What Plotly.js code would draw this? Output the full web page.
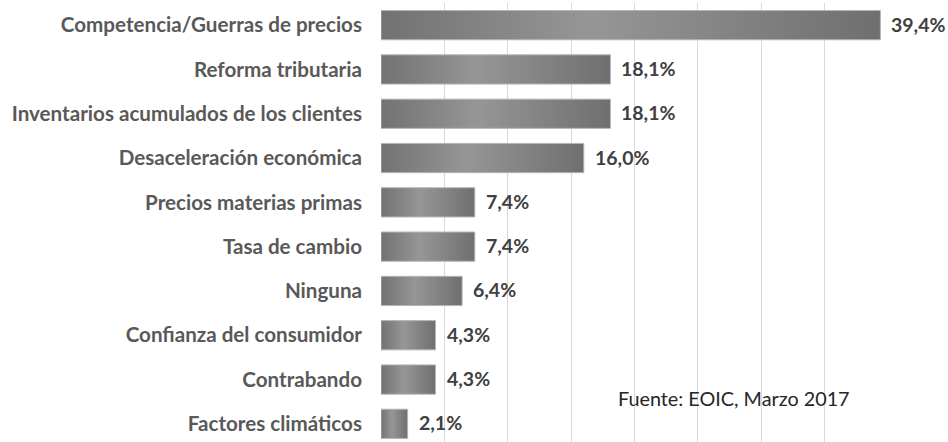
<!DOCTYPE html>
<html>
<head>
<meta charset="utf-8">
<script src="https://cdn.plot.ly/plotly-3.0.1.min.js"></script>
<style>
html,body{margin:0;padding:0;background:#fff;}
#chart{width:948px;height:442px;}
</style>
</head>
<body>
<div id="chart"></div>
<script>
const categories = [
  "Competencia/Guerras de precios",
  "Reforma tributaria",
  "Inventarios acumulados de los clientes",
  "Desaceleración económica",
  "Precios materias primas",
  "Tasa de cambio",
  "Ninguna",
  "Confianza del consumidor",
  "Contrabando",
  "Factores climáticos"
];
const values = [39.4, 18.1, 18.1, 16.0, 7.4, 7.4, 6.4, 4.3, 4.3, 2.1];
const valueLabels = ["39,4%", "18,1%", "18,1%", "16,0%", "7,4%", "7,4%", "6,4%", "4,3%", "4,3%", "2,1%"];
const sourceNote = "Fuente: EOIC, Marzo 2017";

const FONT = "Lato, 'Open Sans', sans-serif";

const trace = {
  type: "bar",
  orientation: "h",
  y: categories,
  x: values,
  width: 0.66,
  marker: {color: "#858585", line: {color: "#b5b5b5", width: 1}},
  cliponaxis: false,
  hoverinfo: "skip"
};

const valueAnnotations = values.map(function(v, i){
  return {
    x: v, y: categories[i],
    xref: "x", yref: "y",
    text: valueLabels[i],
    xanchor: "left", yanchor: "middle",
    xshift: 9, yshift: 1,
    showarrow: false,
    font: {family: FONT, size: 19.5, color: "#404040", weight: 700}
  };
});

const layout = {
  width: 948,
  height: 442,
  margin: {l: 381, r: 60, t: 3, b: 0, pad: 0},
  paper_bgcolor: "#ffffff",
  plot_bgcolor: "#ffffff",
  showlegend: false,
  bargap: 0.34,
  xaxis: {
    range: [0, 40],
    dtick: 5,
    showgrid: true,
    gridcolor: "#d9d9d9",
    gridwidth: 1,
    zeroline: false,
    showticklabels: false,
    showline: false,
    fixedrange: true
  },
  yaxis: {
    type: "category",
    range: [9.41, -0.5],
    showgrid: false,
    zeroline: false,
    showline: false,
    ticks: "",
    ticklabelstandoff: 18,
    tickfont: {family: FONT, size: 20.6, color: "#595959", weight: 700},
    fixedrange: true
  },
  annotations: valueAnnotations.concat([{
    text: sourceNote,
    xref: "paper", yref: "paper",
    x: (616 - 381) / 507, y: (442 - 398) / 439,
    xanchor: "left", yanchor: "middle",
    showarrow: false,
    font: {family: FONT, size: 19.8, color: "#262626"}
  }])
};

Plotly.newPlot("chart", [trace], layout, {displayModeBar: false, staticPlot: true}).then(function(gd){
  const svg = gd.querySelector("svg.main-svg");
  const ns = "http://www.w3.org/2000/svg";
  let defs = svg.querySelector("defs");
  if (!defs) { defs = document.createElementNS(ns, "defs"); svg.insertBefore(defs, svg.firstChild); }
  const g = document.createElementNS(ns, "linearGradient");
  g.setAttribute("id", "barGrad");
  g.setAttribute("x1", "0"); g.setAttribute("y1", "0");
  g.setAttribute("x2", "1"); g.setAttribute("y2", "0");
  [["0", "#727272"], ["0.42", "#969696"], ["1", "#6f6f6f"]].forEach(function(s){
    const st = document.createElementNS(ns, "stop");
    st.setAttribute("offset", s[0]);
    st.setAttribute("stop-color", s[1]);
    g.appendChild(st);
  });
  defs.appendChild(g);
  gd.querySelectorAll(".bars .point path").forEach(function(p){
    p.style.fill = "url(#barGrad)";
  });
});
</script>
</body>
</html>
